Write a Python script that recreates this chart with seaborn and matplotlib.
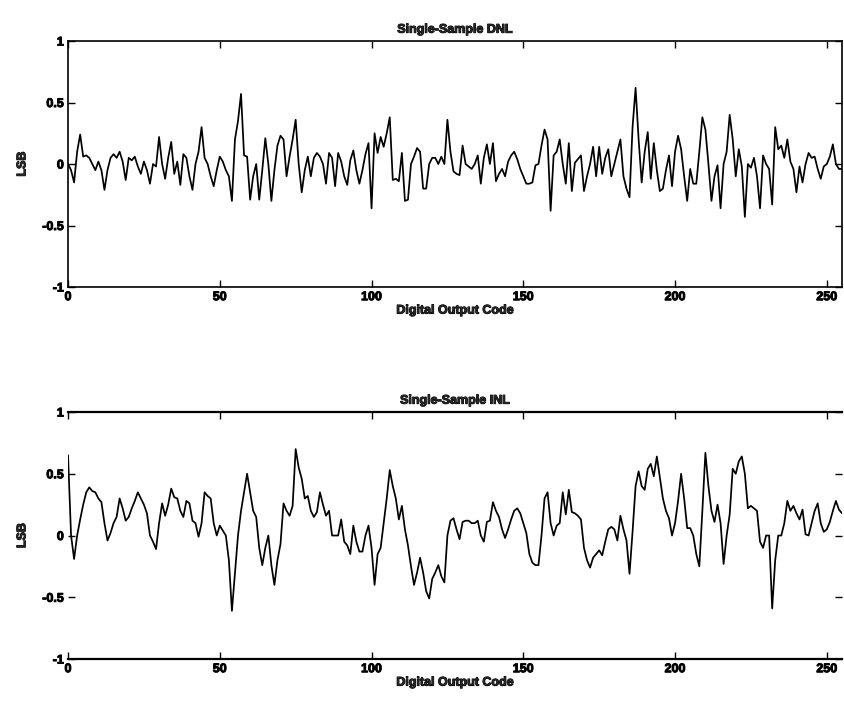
import numpy as np
import pandas as pd
import matplotlib
matplotlib.use("Agg")
import matplotlib.pyplot as plt
import matplotlib.patheffects as pe
import seaborn as sns

# Digital output codes of the 8-bit converter
codes = list(range(256))

# Single-sample differential nonlinearity (LSB), one value per code
dnl = [
    0.00, -0.05, -0.15, 0.10, 0.24, 0.06, 0.07, 0.05, 0.00, -0.05,
    0.02, -0.05, -0.21, -0.05, 0.05, 0.08, 0.05, 0.10, 0.02, -0.13,
    0.05, 0.03, 0.06, -0.02, -0.08, 0.02, -0.05, -0.16, 0.00, -0.02,
    0.22, 0.00, -0.12, 0.05, 0.18, -0.08, 0.02, -0.17, 0.08, 0.05,
    -0.10, -0.21, 0.00, 0.10, 0.30, 0.05, 0.00, -0.10, -0.18, -0.05,
    0.06, 0.02, -0.05, -0.10, -0.30, 0.20, 0.35, 0.57, 0.07, 0.06,
    -0.29, -0.10, 0.00, -0.29, -0.05, 0.21, 0.00, -0.30, -0.05, 0.15,
    0.23, 0.20, -0.10, 0.06, 0.20, 0.36, 0.00, -0.23, -0.05, 0.06,
    -0.10, 0.05, 0.09, 0.06, 0.00, -0.16, 0.09, 0.05, -0.18, 0.09,
    0.02, -0.10, -0.17, 0.03, 0.11, -0.05, -0.16, -0.05, 0.08, 0.17,
    -0.36, 0.25, 0.09, 0.22, 0.14, 0.25, 0.38, -0.13, -0.12, -0.14,
    0.09, -0.30, -0.29, 0.00, 0.06, 0.13, 0.10, -0.20, -0.20, 0.00,
    0.05, 0.05, 0.00, 0.06, 0.00, 0.36, 0.10, -0.06, -0.08, -0.09,
    0.15, 0.00, -0.02, -0.04, 0.00, 0.07, -0.16, 0.05, 0.16, 0.00,
    0.17, -0.14, -0.08, -0.04, -0.10, 0.02, 0.07, 0.10, 0.04, -0.04,
    -0.10, -0.16, -0.16, -0.15, -0.01, 0.00, 0.15, 0.28, 0.20, -0.38,
    0.07, 0.10, 0.20, 0.00, -0.16, 0.17, -0.22, 0.01, 0.04, 0.07,
    -0.22, -0.10, 0.00, 0.14, -0.10, 0.14, -0.08, 0.05, 0.12, -0.10,
    0.00, 0.10, 0.20, -0.10, -0.20, -0.27, 0.30, 0.62, 0.20, -0.15,
    0.10, 0.26, -0.12, 0.17, -0.05, -0.22, -0.20, -0.05, 0.07, -0.18,
    0.10, 0.23, 0.12, -0.10, -0.30, -0.04, -0.16, -0.16, 0.10, 0.38,
    0.28, 0.00, -0.30, -0.10, -0.01, -0.36, 0.00, 0.10, 0.40, 0.20,
    -0.10, 0.12, -0.02, -0.43, 0.00, -0.03, 0.05, -0.10, -0.36, 0.07,
    0.00, -0.04, -0.33, 0.30, 0.12, 0.15, 0.05, 0.20, 0.02, -0.04,
    -0.23, -0.02, -0.15, 0.00, 0.09, 0.05, 0.06, -0.04, -0.12, -0.02,
    0.00, 0.06, 0.16, 0.00, -0.04, -0.04,
]

# Single-sample integral nonlinearity (LSB), one value per code
inl = [
    0.65, 0.00, -0.19, 0.00, 0.13, 0.25, 0.35, 0.39, 0.36, 0.35,
    0.30, 0.27, 0.10, -0.04, 0.02, 0.10, 0.15, 0.30, 0.22, 0.12,
    0.15, 0.22, 0.28, 0.35, 0.30, 0.25, 0.18, 0.00, -0.05, -0.11,
    0.10, 0.26, 0.16, 0.25, 0.38, 0.31, 0.30, 0.20, 0.15, 0.28,
    0.26, 0.12, 0.10, -0.01, 0.10, 0.35, 0.32, 0.30, 0.10, 0.00,
    0.08, 0.04, 0.00, -0.20, -0.61, -0.30, 0.00, 0.20, 0.35, 0.50,
    0.35, 0.20, 0.15, -0.10, -0.24, -0.10, 0.00, -0.24, -0.40, -0.20,
    -0.07, 0.26, 0.20, 0.16, 0.24, 0.70, 0.55, 0.46, 0.30, 0.32,
    0.20, 0.15, 0.19, 0.35, 0.25, 0.16, 0.20, 0.00, 0.00, 0.00,
    0.13, -0.05, -0.08, -0.15, 0.08, -0.05, -0.13, -0.13, 0.00, 0.08,
    -0.10, -0.40, -0.15, -0.10, 0.10, 0.30, 0.53, 0.40, 0.30, 0.13,
    0.24, 0.05, -0.08, -0.25, -0.40, -0.30, -0.18, -0.30, -0.45, -0.51,
    -0.35, -0.30, -0.24, -0.33, -0.38, 0.00, 0.12, 0.14, 0.05, -0.03,
    0.11, 0.12, 0.12, 0.10, 0.10, 0.12, 0.00, -0.05, 0.11, 0.12,
    0.27, 0.20, 0.15, 0.05, -0.02, 0.05, 0.13, 0.20, 0.22, 0.18,
    0.10, 0.02, -0.15, -0.22, -0.24, -0.24, 0.00, 0.30, 0.35, 0.10,
    0.00, 0.08, 0.10, 0.35, 0.17, 0.37, 0.19, 0.18, 0.16, 0.13,
    -0.10, -0.20, -0.26, -0.18, -0.15, -0.12, -0.16, -0.05, 0.05, 0.07,
    0.05, -0.04, 0.16, 0.05, -0.04, -0.31, 0.03, 0.40, 0.52, 0.40,
    0.37, 0.54, 0.58, 0.48, 0.64, 0.47, 0.30, 0.20, 0.14, 0.00,
    0.10, 0.28, 0.50, 0.30, 0.06, 0.06, 0.00, -0.15, -0.25, 0.20,
    0.67, 0.40, 0.20, 0.11, 0.25, 0.10, -0.23, 0.00, 0.17, 0.54,
    0.50, 0.60, 0.64, 0.50, 0.22, 0.24, 0.22, 0.20, -0.05, -0.10,
    0.00, 0.00, -0.59, -0.20, 0.00, 0.00, 0.10, 0.28, 0.20, 0.24,
    0.18, 0.13, 0.21, 0.01, 0.00, 0.10, 0.20, 0.26, 0.10, 0.03,
    0.05, 0.11, 0.20, 0.28, 0.21, 0.18,
]

titles = ["Single-Sample DNL", "Single-Sample INL"]
x_label = "Digital Output Code"
y_label = "LSB"
x_ticks = [0, 50, 100, 150, 200, 250]
y_ticks = [-1, -0.5, 0, 0.5, 1]
y_tick_labels = ["-1", "-0.5", "0", "0.5", "1"]

sns.set_style("ticks")
plt.rcParams["font.family"] = ["Liberation Sans", "DejaVu Sans"]
plt.rcParams["font.weight"] = "bold"

# A thin outline thickens the bold lettering
heavy = [pe.withStroke(linewidth=0.7, foreground="black")]

fig = plt.figure(figsize=(8.44, 7.05), dpi=100)
ax_top = fig.add_axes([0.0806, 0.5929, 0.9170, 0.3489])
ax_bot = fig.add_axes([0.0806, 0.0652, 0.9170, 0.3504])

frames = [
    pd.DataFrame({"code": codes, "value": dnl}),
    pd.DataFrame({"code": codes, "value": inl}),
]

for ax, df, title in zip([ax_top, ax_bot], frames, titles):
    sns.lineplot(data=df, x="code", y="value", ax=ax, color="black",
                 linewidth=1.25, estimator=None)
    ax.set_xlim(0, 255)
    ax.set_ylim(-1, 1)
    ax.set_xticks(x_ticks)
    ax.set_xticklabels([str(t) for t in x_ticks], fontsize=9, fontweight="bold")
    ax.set_yticks(y_ticks)
    ax.set_yticklabels(y_tick_labels, fontsize=9, fontweight="bold")
    ax.tick_params(direction="in", length=5, width=1.0, top=True, right=True,
                   pad=3, colors="black")
    ax.set_title(title, fontsize=9, fontweight="bold", pad=6)
    ax.set_xlabel(x_label, fontsize=9, fontweight="bold", labelpad=1)
    ax.set_ylabel(y_label, fontsize=9, fontweight="bold", labelpad=10)
    for txt in ([ax.title, ax.xaxis.label, ax.yaxis.label]
                + ax.get_xticklabels() + ax.get_yticklabels()):
        txt.set_path_effects(heavy)
    for side in ["top", "bottom", "left", "right"]:
        ax.spines[side].set_color("black")
        ax.spines[side].set_linewidth(1.2)

# The lower panel is framed only above and below
ax_bot.spines["left"].set_visible(False)
ax_bot.spines["right"].set_visible(False)
ax_bot.spines["top"].set_linewidth(1.6)
ax_bot.spines["bottom"].set_linewidth(1.6)

fig.savefig("out.png", dpi=100, facecolor="white")
